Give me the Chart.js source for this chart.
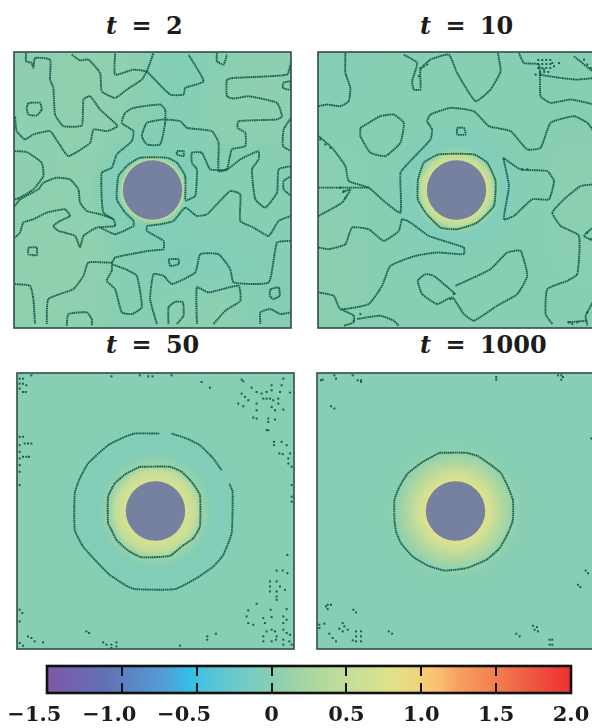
<!DOCTYPE html>
<html>
<head>
<meta charset="utf-8">
<script src="https://cdn.jsdelivr.net/npm/chart.js@4"></script>
<style>
  html, body { margin: 0; padding: 0; background: #fff; width: 592px; height: 728px; overflow: hidden; position: relative; }
  canvas { position: absolute; filter: blur(0.35px); }
  .title { position: absolute; font: bold 24px "DejaVu Serif", serif; color: #1c1c1c; white-space: pre; word-spacing: 6px; line-height: 30px; }
</style>
</head>
<body>
<div class="title" style="left:106px;top:11px"><i>t</i> = 2</div>
<div class="title" style="left:420px;top:11px"><i>t</i> = 10</div>
<div class="title" style="left:106px;top:330px"><i>t</i> = 50</div>
<div class="title" style="left:420px;top:330px"><i>t</i> = 1000</div>
<canvas id="panelT2" width="281" height="280" style="left:12px;top:50px"></canvas>
<canvas id="panelT10" width="281" height="280" style="left:316px;top:50px"></canvas>
<canvas id="panelT50" width="281" height="280" style="left:15px;top:371px"></canvas>
<canvas id="panelT1000" width="281" height="280" style="left:315px;top:371px"></canvas>
<canvas id="colorbar" width="640" height="80" style="left:0;top:660px"></canvas>
<script>
// colour scale
const colorLevels = [-1.5, -1.1, -0.7, -0.55, -0.4, -0.1, 0, 0.25, 0.5, 0.8, 1.0, 1.1, 1.25, 1.5, 1.75, 2.0];
const colorStops = ['#7e57a8', '#6272b6', '#52a0d8', '#32bfe8', '#55c4d8', '#7dcdbf', '#87ceb3', '#aad6a0', '#c3dd9a', '#dfe38a', '#f3d078', '#fac272', '#f6a060', '#f27e50', '#ee5540', '#ee3030'];
const tickLabels = ['\u22121.5\u2002\u2002\u2009', '\u22121.0\u2002\u2002\u2009', '\u22120.5\u2002\u2002\u2009', '0', '0.5', '1.0', '1.5', '2.0'];
const obstacleColor = '#76809f';
const discRadius = 89;

// smooth background of each panel (coarse grid, top row first)
const fieldT2 = [
  [0.04, 0.07, 0.05, -0.04, 0.02, 0.04],
  [0.04, 0.07, 0.04, -0.02, 0.04, 0.04],
  [0.04, 0.06, 0.00, -0.04, 0.00, 0.00],
  [0.06, 0.06, 0.00, 0.00, 0.00, 0.00],
  [0.07, 0.08, 0.00, -0.06, -0.05, -0.02],
  [0.06, 0.06, 0.00, 0.02, 0.04, -0.02]
];
const fieldT10 = [
  [-0.02, 0.00, 0.00, 0.00, 0.00, 0.01],
  [0.00, 0.00, 0.00, 0.00, 0.00, 0.01],
  [0.02, 0.00, -0.02, -0.02, 0.00, 0.03],
  [0.02, 0.00, -0.02, -0.02, 0.00, 0.03],
  [0.03, 0.00, -0.02, 0.00, 0.00, 0.02],
  [0.03, 0.00, 0.00, 0.00, 0.00, 0.00]
];
const fieldT50 = [[0.00, 0.00], [0.00, 0.00]];
const fieldT1000 = [[-0.01, -0.01], [-0.01, -0.01]];

// values around the obstacle, by distance from the centre
const radiiT2 = [89, 93, 100, 115, 140, 190];
const valuesT2 = [0.5, 0.3, 0.05, -0.05, -0.03, 0];
const radiiT10 = [88, 105, 115, 130, 140, 175, 210];
const valuesT10 = [0.68, 0.45, 0.15, -0.02, -0.07, -0.03, 0];
const radiiT50 = [88, 120, 140, 165, 200, 240, 280];
const valuesT50 = [0.72, 0.5, 0.14, -0.02, -0.06, -0.02, 0];
const radiiT1000 = [88, 110, 140, 175, 200, 250];
const valuesT1000 = [0.8, 0.62, 0.33, 0.08, 0.01, 0];

// contour lines, lattice position [x, y], y measured from the top
const contoursT2 = [
  [[36,3],[36,28],[53,33],[58,48],[63,18],[108,23],[108,83],[118,108],[123,188],[148,223],[203,221],[208,143],[228,133],[258,173],[310,223],[278,238],[238,233],[228,273],[163,313],[133,273],[108,238],[58,248],[33,263],[8,238],[3,193]],
  [[173,8],[198,25],[223,23],[258,63],[263,118],[303,138],[338,113],[383,83],[398,58],[418,3]],
  [[398,58],[358,53],[303,68],[303,3]],
  [[398,58],[468,128],[508,128],[513,108],[568,88],[523,8]],
  [[608,3],[608,28],[628,38],[638,8]],
  [[830,33],[818,68],[658,78],[638,83],[638,133],[658,140],[703,133],[788,153],[803,193],[788,203],[673,208],[670,228],[693,243],[693,283],[653,293],[638,353],[613,358],[613,273],[593,238],[518,228],[498,208],[448,203],[398,213],[383,253],[398,278],[438,278],[453,213],[453,173],[438,158],[358,168],[333,183],[323,213],[358,238],[353,268],[308,308],[293,348],[263,363],[263,443],[268,483],[298,503]],
  [[3,463],[18,443],[73,413],[88,393],[128,378],[168,383],[193,413],[198,453],[218,478],[258,488],[298,503],[303,523],[248,528],[208,553],[198,588],[183,553],[133,538],[118,523],[138,508],[168,493],[153,473],[98,483],[58,503],[28,513],[18,543],[3,558]],
  [[513,443],[513,373],[488,333],[458,318],[378,318],[343,338],[313,373],[308,443],[333,483],[358,508],[358,523],[303,548],[258,528]],
  [[398,523],[398,538],[448,568],[448,593],[403,598],[303,618],[293,633],[223,633],[208,673],[178,713],[103,743],[98,818]],
  [[398,523],[438,518],[478,508],[513,468],[548,493],[578,488],[648,418],[678,428],[678,508],[718,528],[763,553],[793,508],[830,493]],
  [[513,448],[543,433],[548,353],[533,333],[533,303],[563,303],[588,353],[638,353],[678,323],[733,298],[733,323],[713,353],[723,443],[753,468],[788,423],[793,353],[830,343]],
  [[488,298],[508,298],[508,313],[488,308],[488,298]],
  [[806,93],[828,88],[828,113],[806,108],[806,93]],
  [[830,198],[808,233],[806,283],[830,298]],
  [[830,373],[808,388],[808,413],[830,433]],
  [[43,153],[78,153],[83,173],[68,191],[43,188],[38,168],[43,153]],
  [[3,298],[38,301],[83,333],[88,373],[58,413],[18,438],[3,443]],
  [[43,588],[68,588],[68,611],[43,608],[43,588]],
  [[463,623],[493,623],[493,638],[468,643],[463,623]],
  [[293,633],[293,658],[278,688],[303,713],[323,783],[353,788],[383,768],[368,673],[333,653],[293,638]],
  [[428,818],[408,743],[418,668],[448,673],[473,698],[543,663],[558,608],[613,608],[648,653],[658,693],[763,693],[788,573],[830,568]],
  [[548,818],[548,708],[583,723],[673,703],[678,748],[633,778],[598,818]],
  [[463,818],[463,768],[483,751],[506,753],[508,793],[488,818]],
  [[3,698],[48,703],[58,743],[63,818]],
  [[158,823],[163,788],[218,783],[233,803],[233,823]],
  [[768,713],[793,708],[796,733],[778,743],[766,733],[768,713]],
  [[738,818],[738,783],[768,773],[798,788],[830,783]]
];
const contoursT10 = [
  [[82,3],[82,63],[97,108],[92,148],[67,163],[27,158],[2,163]],
  [[257,8],[297,33],[282,88],[287,113],[307,113],[307,53],[337,23],[392,8],[417,63],[472,148],[517,113],[547,58],[539,3]],
  [[602,3],[617,33],[662,38],[667,133],[697,153],[757,143],[829,158]],
  [[662,68],[727,78],[777,83],[829,78]],
  [[767,13],[829,63]],
  [[127,228],[187,193],[227,188],[257,213],[247,273],[202,313],[157,303],[127,253],[127,228]],
  [[417,228],[437,228],[442,248],[417,248],[417,228]],
  [[2,253],[42,288],[82,343],[92,388],[152,408],[197,448],[247,483],[247,363],[267,338],[337,263],[342,233],[327,208],[337,188],[397,168],[467,178],[512,223],[577,238],[627,293],[667,288],[697,213],[767,193],[807,213],[829,243]],
  [[2,408],[97,408],[152,408]],
  [[2,493],[72,453],[97,413],[72,423]],
  [[299,383],[317,333],[362,308],[467,308],[507,333],[532,388],[527,463],[477,513],[417,533],[367,528],[322,483],[299,443],[299,383]],
  [[555,318],[607,353],[687,358],[707,388],[692,443],[642,443],[587,493],[557,503],[572,403],[555,318]],
  [[2,588],[32,593],[82,578],[102,528],[152,533],[197,568],[242,538],[252,503],[277,513],[332,553],[437,588],[437,608],[357,603],[292,613],[217,643],[192,703],[152,758],[67,773],[47,733],[2,723]],
  [[412,703],[467,678],[517,653],[567,603],[607,598],[627,673],[597,728],[537,763],[467,808],[437,788],[402,738],[357,758],[312,728],[299,688],[322,668],[347,673],[412,728]],
  [[67,773],[107,793],[107,813],[77,823]],
  [[117,803],[187,793],[227,808],[242,823]],
  [[702,818],[682,788],[687,713],[747,688],[777,668],[782,553],[727,523],[702,483],[737,443],[787,403],[829,398]],
  [[829,523],[797,553],[827,568]],
  [[829,743],[802,793],[807,823]],
  [[747,813],[807,808]]
];
const dotsT10 = [[660,24],[672,24],[684,24],[696,24],[660,36],[672,36],[684,36],[696,36],[660,48],[672,48],[684,48],[696,48],[666,60],[678,60],[690,60],[702,33],[652,68],[667,68],[677,53],[707,43],[722,33],[797,23],[807,38],[817,48],[307,48],[317,43],[327,38],[302,73],[612,353],[627,353],[7,263],[22,278],[37,288],[67,408],[77,418],[82,438],[407,728],[397,743],[107,808],[127,788],[752,813],[762,818],[777,813],[807,783],[807,543],[817,563]];
const contoursT50 = [
  [[368,282],[458,282],[493,297],[523,327],[548,367],[548,462],[528,497],[493,522],[458,550],[373,554],[333,534],[298,502],[283,472],[273,452],[273,372],[293,332],[328,302],[368,282]],
  [[426,182],[353,182],[323,192],[273,217],[213,272],[188,317],[173,362],[173,472],[198,522],[238,567],[278,607],[328,640],[353,650],[473,650],[538,617],[588,582],[618,547],[643,482],[646,357],[636,332]],
  [[463,182],[508,197],[548,217],[588,257],[613,292]]
];
const dotsT50 = [[8,17],[18,17],[8,32],[18,32],[28,37],[8,47],[18,57],[26,57],[43,7],[283,10],[368,7],[393,10],[406,10],[463,7],[553,27],[578,44],[673,20],[678,25],
  [673,62],[683,72],[693,82],[678,100],[663,92],[703,44],[718,57],[733,62],[748,57],[763,37],[793,37],[798,17],[763,52],[788,57],[818,59],[738,77],[748,77],[758,77],[768,82],[783,77],[783,92],[718,92],[718,112],[718,137],[708,134],[753,137],[753,147],[773,140],[763,102],[773,112],[798,110],[748,172],[753,172],
  [8,192],[18,192],[23,212],[33,212],[43,212],[8,217],[8,237],[8,257],[18,252],[28,252],[36,252],[8,277],[8,297],[8,337],
  [770,207],[770,217],[793,207],[808,217],[786,242],[796,244],[818,242],[813,257],[813,272],[823,282],[823,337],[823,372],[823,387],[810,547],
  [778,594],[796,594],[810,602],[758,627],[778,627],[788,642],[758,642],[778,657],[803,652],[758,657],[778,672],[778,682],[718,694],[760,712],[808,710],[693,714],[688,732],[693,752],[708,757],[738,737],[763,734],[798,732],[808,742],[743,752],[798,752],[763,772],[748,777],[738,792],[773,777],[778,792],[738,807],[763,807],[776,802],[798,772],[808,782],[818,787],[798,802],[816,807],[798,817],[823,817],
  [570,792],[570,802],[596,784],[208,777],[216,782],
  [8,712],[16,722],[8,747],[33,792],[43,797],[53,807],[78,810],[8,812],[18,820],
  [258,810],[268,817],[283,817],[298,810],[298,822],[283,827],[488,820]];
const contoursT1000 = [
  [[367,240],[447,240],[482,250],[522,277],[552,302],[572,342],[587,382],[587,442],[572,482],[547,527],[507,562],[447,587],[382,594],[332,579],[287,552],[252,512],[237,477],[232,442],[232,382],[247,342],[272,302],[317,267],[367,240]]
];
const dotsT1000 = [[12,22],[17,20],[52,7],[57,17],[107,7],[122,22],[132,22],[132,27],[42,100],[52,107],[537,12],[537,20],[722,7],[732,7],[737,12],[732,20],[822,197],[805,594],[812,602],[782,637],[789,644],
  [32,697],[42,697],[32,710],[27,702],[109,712],[117,720],[7,757],[22,754],[7,767],[77,752],[82,762],[67,769],[77,777],[92,772],[37,784],[47,797],[57,807],[117,777],[132,777],[117,792],[132,792],[107,804],[117,807],[132,807],[215,777],[225,784],[597,784],[607,792],[647,760],[659,764],[662,777],[652,772],[697,802],[705,802],[697,817],[705,817]];

// contour colour of the dotted lattice sites
const contourColor = '#14614d';

function parseHex(hex) {
  return [1, 3, 5].map(i => parseInt(hex.slice(i, i + 2), 16));
}

function colorAt(value) {
  let i = 0;
  while (i < colorLevels.length - 2 && value > colorLevels[i + 1]) i++;
  const f = Math.min(1, Math.max(0, (value - colorLevels[i]) / (colorLevels[i + 1] - colorLevels[i])));
  const a = parseHex(colorStops[i]);
  const b = parseHex(colorStops[i + 1]);
  return a.map((c, k) => Math.round(c + (b[k] - c) * f));
}

// paints background grid, halo and obstacle under the contour datasets
const fieldPlugin = {
  id: 'field',
  beforeDatasetsDraw(chart, args, opts) {
    const { ctx, chartArea: area, scales: { x, y } } = chart;
    const rows = opts.grid.length;
    const cols = opts.grid[0].length;
    const small = document.createElement('canvas');
    small.width = cols;
    small.height = rows;
    const sctx = small.getContext('2d');
    opts.grid.forEach((row, r) => row.forEach((v, c) => {
      const [red, green, blue] = colorAt(v);
      sctx.fillStyle = `rgb(${red},${green},${blue})`;
      sctx.fillRect(c, r, 1, 1);
    }));
    ctx.save();
    ctx.imageSmoothingEnabled = true;
    ctx.imageSmoothingQuality = 'high';
    ctx.drawImage(small, area.left, area.top, area.width, area.height);

    const cx = x.getPixelForValue(415);
    const cy = y.getPixelForValue(415);
    const unit = x.getPixelForValue(1) - x.getPixelForValue(0);
    const outer = opts.radii[opts.radii.length - 1];
    const halo = ctx.createRadialGradient(cx, cy, 0, cx, cy, outer * unit);
    opts.radii.forEach((r, i) => {
      const [red, green, blue] = colorAt(opts.values[i]);
      const alpha = i === opts.radii.length - 1 ? 0 : 1;
      halo.addColorStop(r / outer, `rgba(${red},${green},${blue},${alpha})`);
    });
    ctx.fillStyle = halo;
    ctx.beginPath();
    ctx.arc(cx, cy, outer * unit, 0, Math.PI * 2);
    ctx.fill();

    ctx.fillStyle = obstacleColor;
    ctx.beginPath();
    ctx.arc(cx, cy, discRadius * unit, 0, Math.PI * 2);
    ctx.fill();
    ctx.restore();
  },
  afterDatasetsDraw(chart, args, opts) {
    const { ctx, chartArea: area } = chart;
    ctx.save();
    ctx.strokeStyle = opts.frame;
    ctx.lineWidth = opts.frameWidth;
    ctx.strokeRect(area.left, area.top, area.width, area.height);
    ctx.restore();
  }
};

function drawPanel(id, grid, radii, values, contours, dots) {
  const datasets = contours.map(line => ({
    data: line,
    showLine: true,
    pointRadius: 0,
    borderColor: contourColor,
    borderWidth: 1.9,
    borderDash: [1.6, 0.55],
    tension: 0.15
  }));
  datasets.push({
    data: dots,
    showLine: false,
    pointStyle: 'rect',
    pointRadius: 1.4,
    pointBorderWidth: 0,
    backgroundColor: contourColor
  });
  new Chart(document.getElementById(id), {
    type: 'scatter',
    data: { datasets },
    options: {
      responsive: false,
      animation: false,
      layout: { padding: 2, autoPadding: false },
      scales: {
        x: { display: false, min: 0, max: 830 },
        y: { display: false, min: 0, max: 830, reverse: true }
      },
      plugins: {
        legend: { display: false },
        tooltip: { enabled: false },
        field: { grid, radii, values, frame: '#2f4f47', frameWidth: 1.6 }
      }
    },
    plugins: [fieldPlugin]
  });
}

drawPanel('panelT2', fieldT2, radiiT2, valuesT2, contoursT2, []);
drawPanel('panelT10', fieldT10, radiiT10, valuesT10, contoursT10, dotsT10);
drawPanel('panelT50', fieldT50, radiiT50, valuesT50, contoursT50, dotsT50);
drawPanel('panelT1000', fieldT1000, radiiT1000, valuesT1000, contoursT1000, dotsT1000);

const barFrame = {
  id: 'barFrame',
  afterDraw(chart) {
    const { ctx, chartArea: area } = chart;
    ctx.save();
    ctx.strokeStyle = '#111';
    ctx.lineWidth = 2.6;
    ctx.strokeRect(area.left, area.top, area.width, area.height);
    ctx.restore();
  }
};

new Chart(document.getElementById('colorbar'), {
  type: 'bar',
  data: {
    labels: ['scale'],
    datasets: [{
      data: [[colorLevels[0], colorLevels[colorLevels.length - 1]]],
      barPercentage: 1,
      categoryPercentage: 1,
      backgroundColor(context) {
        const { chart } = context;
        if (!chart.chartArea) return colorStops[0];
        const x = chart.scales.x;
        const g = chart.ctx.createLinearGradient(x.left, 0, x.right, 0);
        colorLevels.forEach((v, i) => {
          g.addColorStop((x.getPixelForValue(v) - x.left) / x.width, colorStops[i]);
        });
        return g;
      }
    }]
  },
  options: {
    indexAxis: 'y',
    responsive: false,
    animation: false,
    layout: { padding: { left: 47, right: 69, top: 6, bottom: 11 }, autoPadding: false },
    scales: {
      x: {
        type: 'linear',
        min: -1.5,
        max: 2,
        grid: { color: '#111', lineWidth: 2, z: 1, drawTicks: false },
        border: { display: false, dash: [10, 7] },
        // the bar is thinner than its labels, so fix the axis size by hand
        afterFit(scale) {
          scale.height = 36;
          scale.paddingLeft = 0;
          scale.paddingRight = 0;
        },
        ticks: {
          stepSize: 0.5,
          autoSkip: false,
          maxRotation: 0,
          padding: 10,
          color: '#1c1c1c',
          font: { family: '"DejaVu Serif", serif', weight: 'bold', size: 21 },
          callback: (value, index) => tickLabels[index]
        }
      },
      y: { display: false }
    },
    plugins: { legend: { display: false }, tooltip: { enabled: false } }
  },
  plugins: [barFrame]
});
</script>
</body>
</html>
